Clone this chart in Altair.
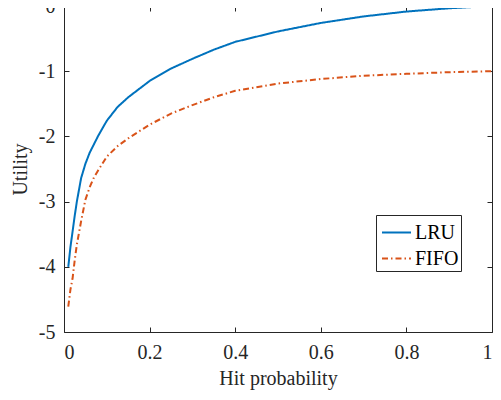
import altair as alt
import pandas as pd

# Hit probability grid
hit = [0.01, 0.015, 0.02, 0.025, 0.03, 0.04, 0.05, 0.06, 0.07, 0.08, 0.1, 0.125,
       0.15, 0.2, 0.25, 0.3, 0.35, 0.4, 0.5, 0.6, 0.7, 0.8, 0.9, 1.0]
lru = [-4.00, -3.70, -3.46, -3.22, -3.00, -2.64, -2.42, -2.25, -2.12, -1.99, -1.76, -1.55,
       -1.40, -1.15, -0.96, -0.81, -0.67, -0.55, -0.39, -0.26, -0.16, -0.085, -0.035, 0.0]
fifo = [-4.61, -4.35, -4.18, -3.90, -3.66, -3.30, -2.97, -2.78, -2.63, -2.52, -2.31, -2.15,
        -2.03, -1.82, -1.65, -1.52, -1.40, -1.30, -1.19, -1.12, -1.07, -1.04, -1.015, -1.0]
series = ["LRU", "FIFO"]
x_ticks = [0, 0.2, 0.4, 0.6, 0.8, 1]
y_ticks = [-5, -4, -3, -2, -1, 0]

rows = []
for h, a, b in zip(hit, lru, fifo):
    rows.append({"h": h, "u": a, "s": "LRU"})
    rows.append({"h": h, "u": b, "s": "FIFO"})
df = pd.DataFrame(rows)

W, H = 428, 326
FONT = "Liberation Serif"
AX = "#262626"

xscale = alt.Scale(domain=[0, 1], nice=False, zero=False)
yscale = alt.Scale(domain=[-5, 0], nice=False, zero=False)

legend_opts = dict(title=None, orient="none", legendX=312, legendY=209,
                   symbolType="stroke", symbolSize=841, symbolStrokeWidth=2,
                   symbolOffset=3, labelFont=FONT, labelFontSize=20, labelColor="#000000",
                   labelOffset=3, rowPadding=-2, padding=2,
                   strokeColor=AX, fillColor="#FFFFFF")

base = alt.Chart(df)

# Main lines with labelled bottom/left axes
lines = base.mark_line(strokeWidth=2, clip=False).encode(
    x=alt.X("h:Q", scale=xscale,
            axis=alt.Axis(orient="bottom", values=x_ticks, ticks=False, tickSize=0,
                          labelExpr="'' + datum.value", labelPadding=10,
                          title="Hit probability", titlePadding=6, grid=False,
                          domainColor=AX, labelColor=AX, titleColor=AX)),
    y=alt.Y("u:Q", scale=yscale,
            axis=alt.Axis(orient="left", values=y_ticks, ticks=False, tickSize=0,
                          labelExpr="'' + datum.value", labelPadding=9,
                          title="Utility", titlePadding=8, grid=False,
                          domainColor=AX, labelColor=AX, titleColor=AX)),
    color=alt.Color("s:N", scale=alt.Scale(domain=series, range=["#0072BD", "#D95319"]),
                    legend=alt.Legend(**legend_opts)),
    strokeDash=alt.StrokeDash("s:N", scale=alt.Scale(domain=series, range=[[1, 0], [6, 3, 1.5, 3]]),
                              legend=alt.Legend(**legend_opts)),
)

# Inward ticks on bottom and left edges
ticks_bl = base.mark_point(opacity=0).encode(
    x=alt.X("h:Q", scale=xscale,
            axis=alt.Axis(orient="top", offset=-H, values=x_ticks, labels=False, domain=False,
                          ticks=True, tickSize=5, tickColor=AX, title=None, grid=False)),
    y=alt.Y("u:Q", scale=yscale,
            axis=alt.Axis(orient="right", offset=-W, values=y_ticks, labels=False, domain=False,
                          ticks=True, tickSize=5, tickColor=AX, title=None, grid=False)),
)

# Box lines and inward ticks on top and right edges
ticks_tr = base.mark_point(opacity=0).encode(
    x=alt.X("h:Q", scale=xscale,
            axis=alt.Axis(orient="bottom", offset=-H, values=x_ticks, labels=False, domain=True,
                          domainColor=AX, ticks=True, tickSize=5, tickColor=AX, title=None, grid=False)),
    y=alt.Y("u:Q", scale=yscale,
            axis=alt.Axis(orient="left", offset=-W, values=y_ticks, labels=False, domain=True,
                          domainColor=AX, ticks=True, tickSize=5, tickColor=AX, title=None, grid=False)),
)

chart = alt.layer(ticks_bl, ticks_tr, lines).resolve_axis(
    x="independent", y="independent"
).properties(
    width=W, height=H,
    autosize=alt.AutoSizeParams(type="none"),
    padding={"left": 56, "top": -2, "right": 1, "bottom": 58},
).configure_view(
    stroke=None
).configure_axis(
    labelFont=FONT, labelFontSize=20, titleFont=FONT, titleFontSize=20,
    titleFontWeight="normal", domainWidth=1, tickWidth=1
)

chart.save("out.html", embed_options={"renderer": "svg", "actions": False})
